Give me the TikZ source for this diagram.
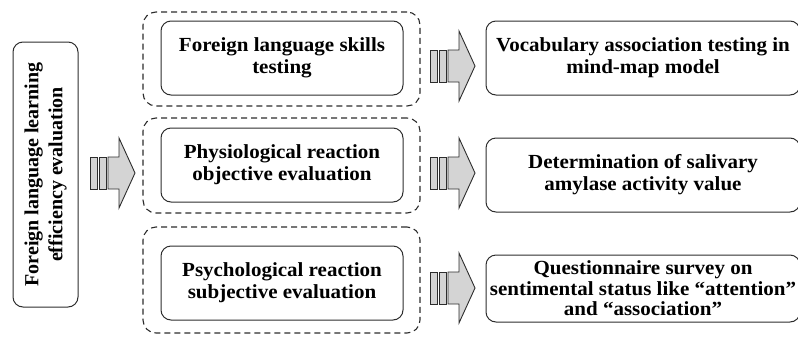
\documentclass[tikz,border=0pt]{standalone}
\usepackage{fontspec}
\setmainfont[FakeStretch=1.05]{Liberation Serif}
\newfontfamily\sidefont{Liberation Serif}
\usetikzlibrary{arrows.meta,positioning}

\definecolor{linegray}{RGB}{45,45,45}
\definecolor{arrowfill}{RGB}{212,212,212}

\tikzset{
  stripearrow/.pic={
    \draw[line width=0.9pt, draw=linegray, fill=arrowfill] (0,-16) rectangle (7,16);
    \draw[line width=0.9pt, draw=linegray, fill=arrowfill] (9,-16) rectangle (16,16);
    \draw[line width=0.9pt, draw=linegray, fill=arrowfill, line join=miter]
      (18,-16) -- (29,-16) -- (29,-35) -- (45,0) -- (29,35) -- (29,16) -- (18,16) -- cycle;
  }
}

\begin{document}
\begin{tikzpicture}[x=1pt,y=-1pt]
	\useasboundingbox (0,0) rectangle (798,338);

	% dashed groups
	\begin{scope}[every node/.style={draw=linegray,line width=1.1pt,dash pattern=on 6pt off 4pt,
	              rounded corners=13pt,minimum width=277pt}]
	    \node[minimum height=94pt] (g1) at (281.5,59) {};
	    \node[minimum height=95pt] (g2) at (281.5,165.5) {};
	    \node[minimum height=106pt] (g3) at (281.5,280) {};
	\end{scope}

	\begin{scope}[every node/.style={draw=linegray,line width=1pt,rounded corners=10pt,
	              align=center,font=\fontsize{20}{22}\selectfont\bfseries,inner sep=0pt}]
	    \node[minimum width=265pt,minimum height=65pt,rotate=90,
	          font=\sidefont\fontsize{20}{24}\selectfont\bfseries] (eval) at (45.5,174.5)
	        {Foreign language learning\\efficiency evaluation};

	    \node[minimum width=242pt,minimum height=74pt] (skills) at (282,58)
	        {Foreign language skills\\testing};
	    \node[minimum width=242pt,minimum height=74pt] (physio) at (282,165)
	        {Physiological reaction\\objective evaluation};
	    \node[minimum width=242pt,minimum height=74pt] (psycho) at (282,283)
	        {Psychological reaction\\subjective evaluation};

	    \node[minimum width=314pt,minimum height=74pt] (vocab) at (643,58)
	        {Vocabulary association testing in\\mind-map model};
	    \node[minimum width=314pt,minimum height=74pt] (saliva) at (643,175)
	        {Determination of salivary\\amylase activity value};
	    \node[minimum width=314pt,minimum height=67pt,
	          font=\fontsize{20}{20.5}\selectfont\bfseries] (survey) at (643,288.5)
	        {Questionnaire survey on\\sentimental status like \textquotedblleft attention\textquotedblright\\and \textquotedblleft association\textquotedblright};
	\end{scope}

	% block arrows
	\pic at (90,173) {stripearrow};
	\pic at (430,66) {stripearrow};
	\pic at (430,173) {stripearrow};
	\pic at (430,288) {stripearrow};
\end{tikzpicture}
\end{document}
